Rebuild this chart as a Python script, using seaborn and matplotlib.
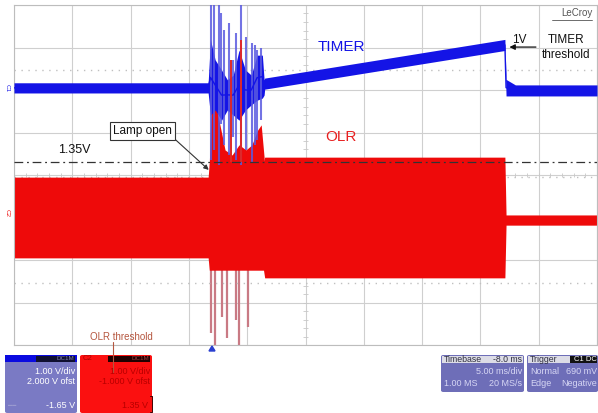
import numpy as np
import pandas as pd
import matplotlib
matplotlib.use("Agg")
import matplotlib.pyplot as plt
import seaborn as sns
from matplotlib.patches import FancyBboxPatch, Rectangle, Polygon
from matplotlib.lines import Line2D

# ---------------- data (screen divisions: x 0..10, y 0..8) ----------------
# TIMER (C1) trace envelope
timer_t  = [0.00, 3.33, 3.37, 3.45, 3.56, 3.66, 3.76, 3.86, 3.97, 4.07, 4.17, 4.26, 4.29,
            4.30, 8.42, 8.44, 8.60, 10.00]
timer_lo = [5.93, 5.93, 5.41, 5.53, 5.29, 5.53, 5.41, 5.29, 5.53, 5.65, 5.76, 5.81, 5.88,
            6.02, 6.93, 5.86, 5.86, 5.86]
timer_hi = [6.17, 6.17, 7.18, 6.71, 6.47, 6.24, 6.35, 6.94, 6.47, 6.35, 6.82, 6.82, 6.24,
            6.28, 7.19, 6.25, 6.12, 6.12]
# TIMER burst spikes
tspk_t   = [3.385, 3.436, 3.52, 3.55, 3.61, 3.69, 3.76, 3.81, 3.90, 3.98, 4.09, 4.14, 4.17, 4.24]
tspk_top = [8.00, 8.00, 8.00, 7.81, 7.41, 7.58, 6.71, 7.34, 8.00, 7.25, 7.10, 7.06, 6.94, 6.99]
tspk_bot = [4.35, 4.59, 4.24, 5.20, 4.70, 4.47, 4.90, 4.35, 4.24, 4.59, 4.30, 4.70, 4.82, 5.29]

# OLR (C2) trace envelope
olr_t  = [0.00, 3.33, 3.35, 4.28, 4.30, 8.42, 8.44, 10.00]
olr_lo = [2.05, 2.05, 1.76, 1.76, 1.58, 1.58, 2.82, 2.82]
olr_hi = [3.95, 3.95, 4.28, 4.33, 4.42, 4.42, 3.06, 3.06]
# OLR burst upper envelope
olrb_t  = [3.35, 3.38, 3.46, 3.55, 3.62, 3.74, 3.86, 3.98, 4.08, 4.18, 4.24, 4.29]
olrb_hi = [4.28, 5.53, 5.65, 5.06, 4.59, 4.47, 4.71, 4.59, 4.71, 5.06, 5.18, 4.42]
# OLR spikes
ospk_dn_t   = [3.385, 3.45, 3.57, 3.66, 3.81, 3.86, 4.02]
ospk_dn_bot = [0.28, 0.00, 0.66, 0.16, 0.59, 0.00, 0.42]
ospk_up_t   = [3.73, 3.90]
ospk_up_top = [6.70, 7.18]

thr_level = 4.31          # 1.35 V
cursor_levels = [6.47, 3.95, 1.46]

# ---------------- figure ----------------
W, H = 598, 413
sns.set_style("white")
plt.rcParams['font.family'] = ['Liberation Sans', 'DejaVu Sans']
fig = plt.figure(figsize=(W / 100, H / 100), dpi=100)
fig.patch.set_facecolor('white')

def fx(x): return x / W
def fy(y): return 1 - y / H

ax = fig.add_axes([fx(14), fy(345), fx(597) - fx(14), fy(5) - fy(345)])
ax.set_xlim(0, 10)
ax.set_ylim(0, 8)
ax.set_xticks(np.arange(0, 11, 1))
ax.set_yticks(np.arange(0, 9, 1))
ax.tick_params(length=0, labelbottom=False, labelleft=False)
ax.grid(True, color='#cfcfcf', lw=0.8)
for s in ax.spines.values():
    s.set_color('#bdbdbd'); s.set_linewidth(0.8)

# centre-line minor ticks
mt = np.arange(0, 10.01, 0.2)
ax.vlines(mt, 4 - 0.05, 4 + 0.05, color='#c8c8c8', lw=0.6)
mt2 = np.arange(0, 8.01, 0.2)
ax.hlines(mt2, 5 - 0.05, 5 + 0.05, color='#c8c8c8', lw=0.6)

# cursor dotted lines
for lv in cursor_levels:
    ax.axhline(lv, color='#c0c0c0', lw=1.0, ls=(0, (1, 4)))

BLUE = '#1414e6'
RED = '#ee0a0a'

# OLR
ax.fill_between(olr_t, olr_lo, olr_hi, color=RED, lw=0, zorder=2)
df_ob = pd.DataFrame({'t': olrb_t, 'v': olrb_hi})
ax.fill_between(df_ob['t'], 3.0, df_ob['v'], color=RED, lw=0, zorder=2)
ax.vlines(ospk_dn_t, ospk_dn_bot, 1.9, color='#c97a84', lw=1.6, zorder=1.9)

# TIMER
ax.fill_between(timer_t, timer_lo, timer_hi, color=BLUE, lw=0, zorder=3)
ax.vlines(tspk_t, tspk_bot, tspk_top, color='#5a5ae0', lw=1.5, alpha=0.85, zorder=3.1)
df_t = pd.DataFrame({'t': timer_t, 'v': [(a + b) / 2 for a, b in zip(timer_lo, timer_hi)]})
sns.lineplot(data=df_t, x='t', y='v', ax=ax, color=BLUE, lw=1.0, zorder=3.2, estimator=None, sort=False)
ax.vlines(ospk_up_t, 4.3, ospk_up_top, color='#e02828', lw=1.4, zorder=3.3)
ax.set_xlabel(''); ax.set_ylabel('')

# threshold dash-dot
ax.axhline(thr_level, color='#333333', lw=0.9, ls=(0, (7, 3, 1.5, 3)), zorder=4)

# texts
ax.text(5.62, 7.01, 'TIMER', color=BLUE, fontsize=11, ha='center', va='center', zorder=5)
ax.text(5.61, 4.89, 'OLR', color='#e82020', fontsize=11, ha='center', va='center', zorder=5)
ax.text(9.92, 7.80, 'LeCroy', color='#555555', fontsize=7, ha='right', va='center', zorder=5)
ax.plot([9.22, 9.92], [7.64, 7.64], color='#555555', lw=0.6)
ax.text(1.03, 4.59, '1.35V', color='#111111', fontsize=9, ha='center', va='center', zorder=5)
ax.text(8.66, 7.18, '1V', color='#111111', fontsize=8.5, ha='center', va='center', zorder=5)
ax.annotate('', xy=(8.45, 7.01), xytext=(9.0, 7.01),
            arrowprops=dict(arrowstyle='-|>', color='#111111', lw=0.9, mutation_scale=8), zorder=5)
ax.text(9.47, 7.18, 'TIMER', color='#111111', fontsize=8.5, ha='center', va='center', zorder=5)
ax.text(9.47, 6.82, 'threshold', color='#111111', fontsize=8.5, ha='center', va='center', zorder=5)
ax.annotate('Lamp open', xy=(3.34, 4.12), xytext=(2.21, 5.04), color='#111111', fontsize=8.5,
            ha='center', va='center', zorder=6,
            bbox=dict(boxstyle='square,pad=0.25', fc='white', ec='#333333', lw=0.8),
            arrowprops=dict(arrowstyle='-|>', color='#333333', lw=0.8, mutation_scale=7,
                            shrinkA=0, shrinkB=0, relpos=(1.0, 0.0)))
ax.text(1.85, 0.19, 'OLR threshold', color='#b5563f', fontsize=7, ha='center', va='center', zorder=5)

# channel markers on the left edge
fig.text(fx(7), fy(88), 'C1', color=BLUE, fontsize=4.5, rotation=270, ha='center', va='center')
fig.text(fx(7), fy(213), 'C2', color=RED, fontsize=4.5, rotation=270, ha='center', va='center')

# trigger marker
fig.patches.append(Polygon([[fx(209), fy(351)], [fx(215), fy(351)], [fx(212), fy(346)]],
                           closed=True, transform=fig.transFigure, color='#2a3fd0'))
# OLR threshold leader line
fig.lines.append(Line2D([fx(113), fx(113)], [fy(342), fy(372)], transform=fig.transFigure,
                        color='#b5563f', lw=0.8))

def box(x0, y0, x1, y1, color, r=2):
    p = FancyBboxPatch((fx(x0), fy(y1)), fx(x1) - fx(x0), fy(y0) - fy(y1),
                       boxstyle='round,pad=0,rounding_size=0.004', transform=fig.transFigure,
                       fc=color, ec='none')
    fig.patches.append(p)

def rect(x0, y0, x1, y1, color):
    fig.patches.append(Rectangle((fx(x0), fy(y1)), fx(x1) - fx(x0), fy(y0) - fy(y1),
                                 transform=fig.transFigure, fc=color, ec='none'))

def t(x, y, s, c, ha='right', fs=6.5):
    fig.text(fx(x), fy(y), s, color=c, fontsize=fs, ha=ha, va='center')

# C1 panel
box(5, 355, 77, 413, '#7a7ac4')
rect(5, 355, 77, 362, '#0a0ae0')
rect(36, 356, 75, 362, '#101030')
t(74, 359, 'DC1M', '#8080b0', fs=4.5)
t(75, 371, '1.00 V/div', 'white')
t(75, 382, '2.000 V ofst', 'white')
t(75, 405, '-1.65 V', 'white')
t(8, 405, '▬▬', '#9a9ad0', ha='left', fs=3)

# C2 panel
box(80, 355, 152, 413, '#fb1010')
rect(108, 356, 150, 362, '#200000')
t(83, 359, 'C2', '#b00000', ha='left', fs=5.5)
t(149, 359, 'DC1M', '#a04040', fs=4.5)
t(150, 371, '1.00 V/div', '#b80000')
t(150, 382, '-1.000 V ofst', '#b80000')
t(148, 405, '1.35 V', '#b80000')
fig.lines.append(Line2D([fx(150), fx(152), fx(152), fx(150)], [fy(396), fy(396), fy(412), fy(412)],
                        transform=fig.transFigure, color='#400000', lw=0.7))

# Timebase panel
box(441, 355, 524, 392, '#6e6eb8')
rect(442, 356, 523, 363, '#dcdce6')
t(444, 359.5, 'Timebase', '#303040', ha='left', fs=6.3)
t(522, 359.5, '-8.0 ms', '#303040', fs=6.3)
t(522, 372, '5.00 ms/div', '#d6d6f4')
t(444, 384, '1.00 MS', '#d6d6f4', ha='left')
t(522, 384, '20 MS/s', '#d6d6f4')

# Trigger panel
box(527, 355, 598, 392, '#6e6eb8')
rect(528, 356, 597, 363, '#dcdce6')
rect(570, 356, 597, 363, '#111111')
t(530, 359.5, 'Trigger', '#303040', ha='left', fs=6.3)
t(597, 359.5, 'C1 DC', 'white', fs=5.5)
t(530, 372, 'Normal', '#d6d6f4', ha='left')
t(597, 372, '690 mV', '#d6d6f4')
t(530, 384, 'Edge', '#d6d6f4', ha='left')
t(597, 384, 'Negative', '#d6d6f4')

fig.savefig('out.png', dpi=100, facecolor='white')
